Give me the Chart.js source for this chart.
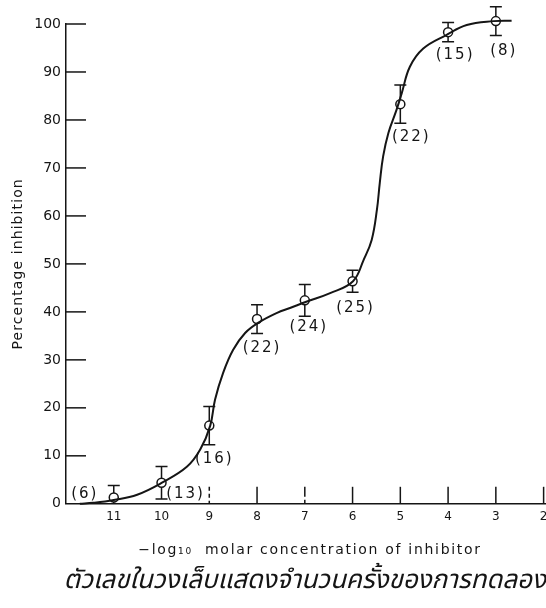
<!DOCTYPE html>
<html>
<head>
<meta charset="utf-8">
<script src="https://cdn.jsdelivr.net/npm/chart.js@4.4.1/dist/chart.umd.min.js"></script>
<style>
  html, body { margin: 0; padding: 0; background: #fff; }
  #wrap { width: 546px; height: 608px; }
</style>
</head>
<body>
<div id="wrap"><canvas id="chart"></canvas></div>
<script>
// measured points: -log10 concentration, % inhibition, error, number of runs
const concentrations = [11, 10, 9, 8, 7, 6, 5, 4, 3];
const inhibition = [1.3, 4.4, 16.3, 38.5, 42.4, 46.4, 83.3, 98.3, 100.6];
const errors = [2.5, 3.4, 4.0, 3.0, 3.3, 2.3, 4.0, 2.0, 3.0];
const runCounts = ['(6)', '(13)', '(16)', '(22)', '(24)', '(25)', '(22)', '(15)', '(8)'];

// fitted curve
const curveX = [11.71, 11.43, 11.0, 10.51, 9.99, 9.47, 9.19, 8.98, 8.88, 8.71, 8.5, 8.25, 7.98, 7.58, 7.31, 6.97, 6.47, 5.99, 5.77, 5.6, 5.49, 5.43, 5.36, 5.25, 5.08, 4.97, 4.8, 4.52, 4.04, 3.61, 3.05, 2.67];
const curveY = [0, 0.2, 0.8, 1.9, 4.4, 7.7, 11.3, 16.3, 21.7, 27.3, 32.1, 35.6, 37.7, 39.8, 40.8, 42.1, 43.9, 46.4, 50.8, 55, 61.3, 66.9, 72.4, 77.3, 82.1, 85.6, 91.1, 94.9, 97.7, 99.8, 100.6, 100.7];

const xTickLabels = [11, 10, 9, 8, 7, 6, 5, 4, 3, 2];
const xTickMarks = [9, 8, 7, 6, 5, 4, 3, 2];
const yTickLabels = [0, 10, 20, 30, 40, 50, 60, 70, 80, 90, 100];

const xTitle = '−log₁₀  molar concentration of inhibitor';
const yTitle = 'Percentage inhibition';
const caption = 'ตัวเลขในวงเล็บแสดงจำนวนครั้งของการทดลอง';

// where the (n) labels sit relative to each point, in px
const labelDx = [-30, 23, 4, 4, 3, 2, 10, 6, 7];
const labelDy = [-3, 11, 34, 29, 27, 27, 33, 23, 30];

const ink = '#151515';
const font = "'DejaVu Sans', sans-serif";

const overlay = {
    id: 'overlay',
    beforeDatasetsDraw(chart) {
        const { ctx, chartArea, scales: { x, y } } = chart;
        ctx.save();
        ctx.strokeStyle = ink;
        ctx.lineWidth = 1.5;

        // y ticks point inward
        yTickLabels.forEach(function (v) {
            if (v === 0) return;
            const py = y.getPixelForValue(v);
            ctx.beginPath();
            ctx.moveTo(chartArea.left, py);
            ctx.lineTo(chartArea.left + 20, py);
            ctx.stroke();
        });

        // x ticks stand on the axis
        xTickMarks.forEach(function (v) {
            const px = x.getPixelForValue(v);
            ctx.setLineDash(v === 9 ? [4, 3] : v === 7 ? [10, 3] : []);
            ctx.beginPath();
            ctx.moveTo(px, chartArea.bottom - 17);
            ctx.lineTo(px, chartArea.bottom);
            ctx.stroke();
        });
        ctx.setLineDash([]);

        // error bars
        concentrations.forEach(function (c, i) {
            const px = x.getPixelForValue(c);
            const lo = inhibition[i] - errors[i];
            const top = y.getPixelForValue(inhibition[i] + errors[i]);
            const bot = y.getPixelForValue(Math.max(lo, 0));
            ctx.beginPath();
            ctx.moveTo(px, top);
            ctx.lineTo(px, bot);
            ctx.moveTo(px - 6, top);
            ctx.lineTo(px + 6, top);
            if (lo > 0) {
                ctx.moveTo(px - 6, bot);
                ctx.lineTo(px + 6, bot);
            }
            ctx.stroke();
        });
        ctx.restore();
    },
    afterDatasetsDraw(chart) {
        const { ctx, chartArea, scales: { x, y } } = chart;
        ctx.save();
        ctx.fillStyle = ink;
        ctx.textAlign = 'center';
        ctx.textBaseline = 'middle';

        // (n) labels
        ctx.font = '15px ' + font;
        ctx.letterSpacing = '2px';
        concentrations.forEach(function (c, i) {
            const px = x.getPixelForValue(c) + labelDx[i] + 1;
            const py = y.getPixelForValue(inhibition[i]) + labelDy[i];
            ctx.fillText(runCounts[i], px, py);
        });

        // x tick labels
        ctx.font = '12px ' + font;
        ctx.letterSpacing = '0px';
        xTickLabels.forEach(function (v) {
            ctx.fillText(String(v), x.getPixelForValue(v), chartArea.bottom + 13);
        });

        // axis titles, tracked out like the original lettering
        ctx.font = '14px ' + font;
        ctx.letterSpacing = '1.7px';
        ctx.fillText(xTitle, (chartArea.left + chartArea.right) / 2 + 4, chartArea.bottom + 47);

        ctx.letterSpacing = '1.1px';
        ctx.translate(18, (chartArea.top + chartArea.bottom) / 2);
        ctx.rotate(-Math.PI / 2);
        ctx.fillText(yTitle, 0, 0);
        ctx.restore();
    }
};

const ctx = document.getElementById('chart').getContext('2d');

new Chart(ctx, {
    type: 'scatter',
    data: {
        datasets: [{
            type: 'line',
            data: curveX.map(function (v, i) { return { x: v, y: curveY[i] }; }),
            borderColor: ink,
            borderWidth: 2,
            pointRadius: 0,
            tension: 0.4,
            fill: false,
            clip: false
        }, {
            data: concentrations.map(function (v, i) { return { x: v, y: inhibition[i] }; }),
            pointRadius: 4.5,
            pointBackgroundColor: '#fff',
            pointBorderColor: ink,
            pointBorderWidth: 1.5,
            clip: false
        }]
    },
    options: {
        responsive: true,
        maintainAspectRatio: false,
        animation: false,
        layout: {
            autoPadding: false,
            padding: { top: 24, left: 0, right: 0, bottom: 0 }
        },
        scales: {
            x: {
                type: 'linear',
                reverse: true,
                min: 1.95,
                max: 12,
                afterBuildTicks: function (s) {
                    s.ticks = xTickLabels.map(function (v) { return { value: v }; });
                },
                afterFit: function (s) {
                    s.height = 55;
                },
                grid: { display: false, drawTicks: false },
                border: { display: true, color: ink, width: 1.5 },
                ticks: { display: false }
            },
            y: {
                min: 0,
                max: 100,
                afterBuildTicks: function (s) {
                    s.ticks = yTickLabels.map(function (v) { return { value: v }; });
                },
                afterFit: function (s) {
                    s.width = 66;
                },
                grid: { display: false, drawTicks: false },
                border: { display: true, color: ink, width: 1.5 },
                ticks: {
                    color: ink,
                    padding: 5,
                    font: { family: font, size: 14 }
                }
            }
        },
        plugins: {
            legend: { display: false },
            tooltip: { enabled: false },
            title: {
                display: true,
                position: 'bottom',
                align: 'end',
                text: caption,
                color: ink,
                font: { family: "'Noto Sans Thai', 'Loma', 'Garuda', 'Norasi', sans-serif", size: 26, style: 'italic', weight: 'normal' },
                padding: { top: 8, bottom: 10 }
            }
        }
    },
    plugins: [overlay]
});
</script>
</body>
</html>
